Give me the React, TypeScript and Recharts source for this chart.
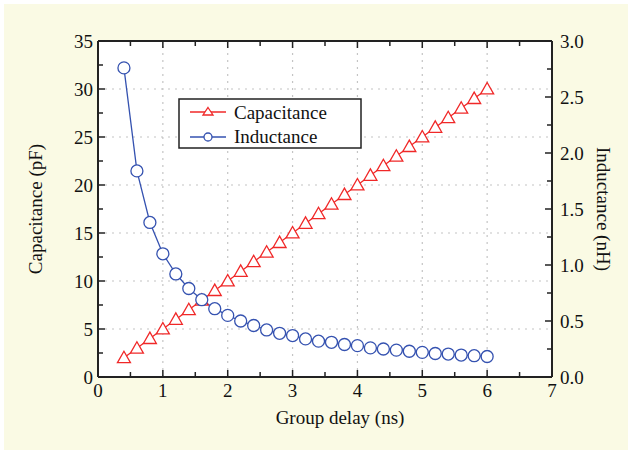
import React from 'react';
import { LineChart, Line, XAxis, YAxis, ReferenceLine, Label } from 'recharts';

const delay = [0.4, 0.6, 0.8, 1.0, 1.2, 1.4, 1.6, 1.8, 2.0, 2.2, 2.4, 2.6, 2.8, 3.0, 3.2, 3.4, 3.6, 3.8, 4.0, 4.2, 4.4, 4.6, 4.8, 5.0, 5.2, 5.4, 5.6, 5.8, 6.0];
const capacitance = [2, 3, 4, 5, 6, 7, 8, 9, 10, 11, 12, 13, 14, 15, 16, 17, 18, 19, 20, 21, 22, 23, 24, 25, 26, 27, 28, 29, 30];
const inductance = [2.76, 1.84, 1.38, 1.1, 0.92, 0.79, 0.69, 0.61, 0.55, 0.5, 0.46, 0.42, 0.39, 0.37, 0.34, 0.32, 0.31, 0.29, 0.28, 0.26, 0.25, 0.24, 0.23, 0.22, 0.21, 0.205, 0.196, 0.19, 0.183];

const xTicks = [0, 0.5, 1, 1.5, 2, 2.5, 3, 3.5, 4, 4.5, 5, 5.5, 6, 6.5, 7];
const xLabels = [0, 1, 2, 3, 4, 5, 6, 7];
const leftTicks = [0, 2.5, 5, 7.5, 10, 12.5, 15, 17.5, 20, 22.5, 25, 27.5, 30, 32.5, 35];
const leftLabels = [0, 5, 10, 15, 20, 25, 30, 35];
const rightTicks = [0, 0.25, 0.5, 0.75, 1.0, 1.25, 1.5, 1.75, 2.0, 2.25, 2.5, 2.75, 3.0];
const rightLabels = [0, 0.5, 1.0, 1.5, 2.0, 2.5, 3.0];
const xGrid = [1, 2, 3, 4, 5, 6];
const yGrid = [5, 10, 15, 20, 25, 30];

const data = delay.map((d, i) => ({ delay: d, cap: capacitance[i], ind: inductance[i] }));

const FONT = "'Liberation Serif', 'Times New Roman', Times, serif";
const TXT: React.CSSProperties = { fontFamily: FONT, fontSize: 19, fill: '#111' };
const RED = '#f02828';
const BLUE = '#3552b0';
const AXIS = '#222';

const near = (arr: number[], v: number) => arr.some((a) => Math.abs(a - v) < 1e-6);

const BottomTick = (p: any) => {
  const v = p.payload.value;
  const major = near(xLabels, v);
  return (
    <g>
      <line x1={p.x} x2={p.x} y1={p.y} y2={p.y - (major ? 7 : 5)} stroke={AXIS} strokeWidth={1.5} />
      {major && (
        <text x={p.x} y={p.y + 20} textAnchor="middle" style={TXT}>
          {v}
        </text>
      )}
    </g>
  );
};

const TopTick = (p: any) => {
  const v = p.payload.value;
  const major = near(xLabels, v);
  return <line x1={p.x} x2={p.x} y1={p.y} y2={p.y + (major ? 7 : 5)} stroke={AXIS} strokeWidth={1.5} />;
};

const LeftTick = (p: any) => {
  const v = p.payload.value;
  const major = near(leftLabels, v);
  return (
    <g>
      <line x1={p.x} x2={p.x + (major ? 7 : 5)} y1={p.y} y2={p.y} stroke={AXIS} strokeWidth={1.5} />
      {major && (
        <text x={p.x - 5} y={p.y} dy="0.35em" textAnchor="end" style={TXT}>
          {v}
        </text>
      )}
    </g>
  );
};

const RightTick = (p: any) => {
  const v = p.payload.value;
  const major = near(rightLabels, v);
  return (
    <g>
      <line x1={p.x} x2={p.x - (major ? 7 : 5)} y1={p.y} y2={p.y} stroke={AXIS} strokeWidth={1.5} />
      {major && (
        <text x={p.x + 8} y={p.y} dy="0.35em" textAnchor="start" style={TXT}>
          {v.toFixed(1)}
        </text>
      )}
    </g>
  );
};

const TriDot = (p: any) => {
  const { cx, cy } = p;
  if (cx == null || cy == null) return <g key={p.index} />;
  const s = 6.5;
  const pts = `${cx},${cy - s} ${cx + s},${cy + s * 0.75} ${cx - s},${cy + s * 0.75}`;
  return <polygon key={p.index} points={pts} fill="#fff" stroke={RED} strokeWidth={1.3} />;
};

const CircDot = (p: any) => {
  const { cx, cy } = p;
  if (cx == null || cy == null) return <g key={p.index} />;
  return <circle key={p.index} cx={cx} cy={cy} r={6} fill="#fff" stroke={BLUE} strokeWidth={1.3} />;
};

const LegendBox = () => (
  <svg width={184} height={51} style={{ display: 'block' }}>
    <rect x={1} y={1} width={182} height={49} fill="#fff" stroke="#222" strokeWidth={1.5} />
    <line x1={12} x2={48} y1={14} y2={14} stroke={RED} strokeWidth={1.3} />
    <polygon points="30,9.5 35,17 25,17" fill="#fff" stroke={RED} strokeWidth={1.3} />
    <text x={56} y={21} style={TXT}>Capacitance</text>
    <line x1={12} x2={48} y1={39} y2={39} stroke={BLUE} strokeWidth={1.3} />
    <circle cx={30} cy={39} r={4} fill="#fff" stroke={BLUE} strokeWidth={1.3} />
    <text x={56} y={45} style={TXT}>Inductance</text>
  </svg>
);

const LeftTitle = (p: any) => {
  const vb = p.viewBox;
  const cy = vb.y + vb.height / 2;
  const x = 42;
  return (
    <text x={x} y={cy} transform={`rotate(-90, ${x}, ${cy})`} textAnchor="middle" style={TXT}>
      Capacitance (pF)
    </text>
  );
};

const RightTitle = (p: any) => {
  const vb = p.viewBox;
  const cy = vb.y + vb.height / 2;
  const x = 597;
  return (
    <text x={x} y={cy} transform={`rotate(90, ${x}, ${cy})`} textAnchor="middle" style={TXT}>
      Inductance (nH)
    </text>
  );
};

const BottomTitle = () => (
  <text x={340} y={424} textAnchor="middle" style={TXT}>
    Group delay (ns)
  </text>
);

export default function App() {
  return (
    <div style={{ position: 'absolute', left: 0, top: 0, width: 630, height: 454, background: '#fff', fontFamily: FONT }}>
      <div style={{ position: 'absolute', left: 4, top: 4, width: 624, height: 446, background: '#fafae4' }} />
      <div style={{ position: 'absolute', left: 0, top: 0 }}>
        <LineChart width={630} height={454} data={data} margin={{ top: 40, right: 18, bottom: 47, left: 38 }}>
          <rect x={98} y={41} width={454} height={336} fill="#fff" />
          <XAxis
            xAxisId="bottom"
            dataKey="delay"
            type="number"
            domain={[0, 7]}
            ticks={xTicks}
            interval={0}
            height={30}
            tickSize={0}
            tickMargin={0}
            tickLine={false}
            tick={BottomTick}
            axisLine={{ stroke: AXIS, strokeWidth: 2 }}
          >
            <Label content={BottomTitle} />
          </XAxis>
          <XAxis
            xAxisId="top"
            orientation="top"
            dataKey="delay"
            type="number"
            domain={[0, 7]}
            ticks={xTicks}
            interval={0}
            height={1}
            tickSize={0}
            tickMargin={0}
            tickLine={false}
            tick={TopTick}
            axisLine={{ stroke: AXIS, strokeWidth: 2 }}
          />
          <YAxis
            yAxisId="left"
            type="number"
            domain={[0, 35]}
            ticks={leftTicks}
            interval={0}
            width={60}
            tickSize={0}
            tickMargin={0}
            tickLine={false}
            tick={LeftTick}
            axisLine={{ stroke: AXIS, strokeWidth: 2 }}
          >
            <Label content={LeftTitle} />
          </YAxis>
          <YAxis
            yAxisId="right"
            orientation="right"
            type="number"
            domain={[0, 3]}
            ticks={rightTicks}
            interval={0}
            width={60}
            tickSize={0}
            tickMargin={0}
            tickLine={false}
            tick={RightTick}
            axisLine={{ stroke: AXIS, strokeWidth: 2 }}
          >
            <Label content={RightTitle} />
          </YAxis>
          {xGrid.map((g) => (
            <ReferenceLine key={'x' + g} x={g} xAxisId="bottom" yAxisId="left" stroke="#c4c4c4" strokeDasharray="2 5" strokeWidth={1.2} />
          ))}
          {yGrid.map((g) => (
            <ReferenceLine key={'y' + g} y={g} xAxisId="bottom" yAxisId="left" stroke="#c4c4c4" strokeDasharray="2 5" strokeWidth={1.2} />
          ))}
          <Line
            xAxisId="bottom"
            yAxisId="left"
            dataKey="cap"
            type="linear"
            stroke={RED}
            strokeWidth={1.3}
            dot={TriDot}
            activeDot={false}
            isAnimationActive={false}
          />
          <Line
            xAxisId="bottom"
            yAxisId="right"
            dataKey="ind"
            type="linear"
            stroke={BLUE}
            strokeWidth={1.3}
            dot={CircDot}
            activeDot={false}
            isAnimationActive={false}
          />
        </LineChart>
      </div>
      <div style={{ position: 'absolute', left: 178, top: 98 }}>
        <LegendBox />
      </div>
    </div>
  );
}
